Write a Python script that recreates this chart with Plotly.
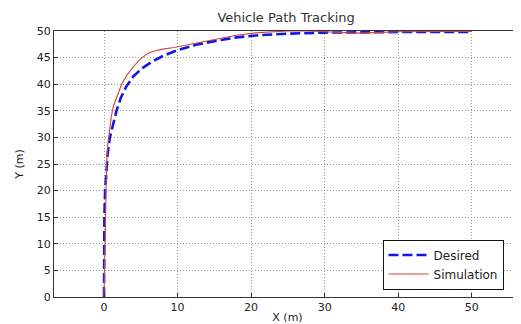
import plotly.graph_objects as go

# Desired path
desired_x = [0, 0, 0.05, 0.15, 0.3, 0.5, 0.8, 1.2, 1.7, 2.3, 3.0, 4.0, 5.2, 6.5, 8.0, 10, 12.5, 15, 18, 21, 25, 30, 35, 40, 45, 50]
desired_y = [0, 10, 15, 20, 24, 27, 30, 32.5, 35, 37.5, 39.5, 41.5, 43, 44.2, 45.3, 46.4, 47.4, 48.1, 48.8, 49.2, 49.5, 49.7, 49.8, 49.8, 49.8, 49.8]

# Simulated path
sim_x = [0, 0.1, 0.2, 0.35, 0.5, 0.7, 1.0, 1.3, 1.8, 2.4, 3.1, 4.0, 5.0, 6.0, 7.0, 8.0, 9.5, 11, 13, 15, 18, 21, 25, 28, 31, 34, 37, 40, 45, 50]
sim_y = [0, 10, 20, 25, 28.5, 31, 34, 36, 38, 40, 41.7, 43.3, 44.8, 45.8, 46.3, 46.6, 46.9, 47.3, 47.9, 48.5, 49.2, 49.7, 50.0, 50.0, 49.8, 49.6, 49.7, 49.85, 49.9, 49.9]

x_ticks = [0, 10, 20, 30, 40, 50]
y_ticks = [0, 5, 10, 15, 20, 25, 30, 35, 40, 45, 50]

font = "DejaVu Sans, Arial, sans-serif"

fig = go.Figure()
fig.add_trace(go.Scatter(x=desired_x, y=desired_y, mode="lines", name="Desired",
                         line=dict(color="#1414e6", width=2.6, dash="10px,4px")))
fig.add_trace(go.Scatter(x=sim_x, y=sim_y, mode="lines", name="Simulation",
                         line=dict(color="#d04545", width=1.1)))

fig.update_layout(
    width=521, height=324,
    margin=dict(l=46, r=8, t=23, b=35, autoexpand=False),
    paper_bgcolor="white", plot_bgcolor="white",
    font=dict(family=font, size=11, color="#222"),
    title=dict(text="Vehicle Path Tracking", xref="paper", x=0.497, xanchor="center",
               yref="container", y=0.972, yanchor="middle",
               font=dict(size=13, color="#333")),
    showlegend=True,
    legend=dict(x=0.833, y=0.122, xanchor="center", yanchor="middle",
                bgcolor="white", bordercolor="#111", borderwidth=1,
                font=dict(size=12, color="#222"), tracegroupgap=0,
                itemwidth=40),
)
fig.update_xaxes(range=[-6.8, 56.7], tickvals=x_ticks, showgrid=True, automargin=False,
                 gridcolor="#999", griddash="1px,2px", gridwidth=1,
                 showline=True, linecolor="#333", linewidth=1, mirror=True,
                 ticks="inside", ticklen=4, tickcolor="#333", zeroline=False,
                 tickfont=dict(size=11),
                 title=dict(text="X (m)", standoff=0, font=dict(size=11)))
fig.update_yaxes(range=[0, 50], tickvals=y_ticks, showgrid=True, automargin=False,
                 gridcolor="#999", griddash="1px,2px", gridwidth=1,
                 showline=True, linecolor="#333", linewidth=1,
                 ticks="inside", ticklen=4, tickcolor="#333", zeroline=False,
                 tickfont=dict(size=11),
                 title=dict(text="Y (m)", standoff=10, font=dict(size=11)))

fig.write_html("out.html")
